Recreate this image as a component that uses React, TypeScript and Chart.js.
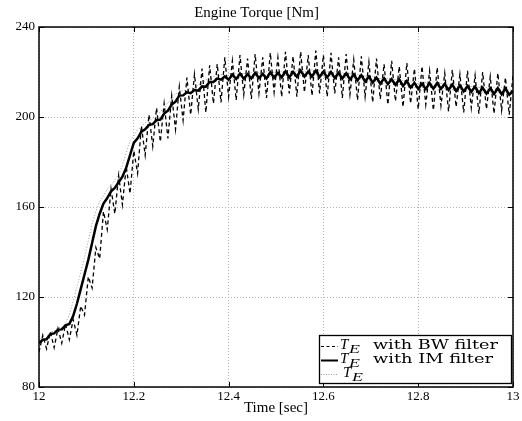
import React, { useEffect, useRef } from "react";
import { Chart, registerables } from "chart.js";

Chart.register(...registerables);

const TITLE = "Engine Torque [Nm]";
const X_TITLE = "Time [sec]";
const X_TICKS = [12, 12.2, 12.4, 12.6, 12.8, 13];
const Y_TICKS = [80, 120, 160, 200, 240];

// sample times [s]
const sampleTimes = [
  12.000, 12.008, 12.016, 12.024, 12.032, 12.040, 12.048, 12.056, 12.064, 12.072,
  12.080, 12.088, 12.096, 12.104, 12.112, 12.120, 12.128, 12.136, 12.144, 12.152,
  12.160, 12.168, 12.176, 12.184, 12.192, 12.200, 12.208, 12.216, 12.224, 12.232,
  12.240, 12.248, 12.256, 12.264, 12.272, 12.280, 12.288, 12.296, 12.304, 12.312,
  12.320, 12.328, 12.336, 12.344, 12.352, 12.360, 12.368, 12.376, 12.384, 12.392,
  12.400, 12.408, 12.416, 12.424, 12.432, 12.440, 12.448, 12.456, 12.464, 12.472,
  12.480, 12.488, 12.496, 12.504, 12.512, 12.520, 12.528, 12.536, 12.544, 12.552,
  12.560, 12.568, 12.576, 12.584, 12.592, 12.600, 12.608, 12.616, 12.624, 12.632,
  12.640, 12.648, 12.656, 12.664, 12.672, 12.680, 12.688, 12.696, 12.704, 12.712,
  12.720, 12.728, 12.736, 12.744, 12.752, 12.760, 12.768, 12.776, 12.784, 12.792,
  12.800, 12.808, 12.816, 12.824, 12.832, 12.840, 12.848, 12.856, 12.864, 12.872,
  12.880, 12.888, 12.896, 12.904, 12.912, 12.920, 12.928, 12.936, 12.944, 12.952,
  12.960, 12.968, 12.976, 12.984, 12.992, 13.000,
];

// T_E with BW filter (dashed)
const torqueBW = [
  95.5, 103.0, 97.0, 104.5, 97.5, 106.0, 99.5, 108.0, 101.0, 110.0,
  103.0, 116.0, 112.0, 129.0, 124.0, 142.0, 137.0, 158.0, 150.0, 168.0,
  157.0, 174.0, 161.0, 178.0, 166.0, 185.0, 175.0, 196.0, 183.0, 201.0,
  187.0, 204.0, 189.0, 206.0, 190.5, 209.5, 194.5, 213.5, 198.5, 217.5,
  201.0, 219.0, 203.5, 221.5, 202.0, 223.0, 206.0, 223.5, 206.5, 226.5,
  209.0, 225.0, 207.5, 227.5, 210.0, 226.0, 208.0, 228.0, 210.5, 226.5,
  208.5, 228.5, 211.0, 226.5, 209.0, 229.0, 210.5, 227.0, 209.0, 229.0,
  211.0, 227.5, 209.5, 229.5, 210.5, 227.5, 209.0, 228.5, 210.5, 226.5,
  208.5, 228.0, 210.0, 225.5, 207.5, 227.0, 209.0, 224.5, 206.5, 226.0,
  208.0, 223.5, 205.5, 225.0, 207.0, 222.5, 204.5, 224.0, 206.0, 221.5,
  203.5, 222.5, 205.5, 220.5, 203.0, 222.0, 205.0, 219.5, 202.5, 221.0,
  204.5, 219.0, 202.0, 220.5, 204.0, 218.5, 201.5, 220.0, 203.5, 218.0,
  201.5, 219.5, 203.0, 217.5, 201.0, 218.5,
];

// T_E with IM filter (solid)
const torqueIM = [
  99.5, 101.0, 101.2, 103.5, 103.8, 105.5, 105.6, 107.4, 108.0, 111.5,
  117.0, 123.5, 130.0, 136.5, 144.0, 151.5, 157.0, 161.5, 164.0, 167.0,
  168.5, 171.0, 173.5, 177.5, 183.0, 188.5, 190.5, 193.5, 194.5, 196.5,
  196.8, 198.6, 198.8, 201.5, 202.8, 205.5, 206.8, 209.5, 209.6, 211.0,
  210.6, 212.0, 211.7, 213.6, 213.5, 215.6, 215.6, 217.1, 216.6, 218.0,
  216.6, 218.8, 216.9, 219.3, 217.0, 219.0, 217.1, 219.6, 217.3, 219.2,
  217.2, 219.9, 217.5, 219.6, 217.6, 220.3, 217.6, 220.1, 217.9, 220.6,
  218.0, 220.2, 218.0, 220.6, 217.8, 220.1, 217.6, 220.0, 217.3, 219.6,
  217.1, 219.4, 216.7, 218.9, 216.3, 218.6, 215.8, 218.0, 215.3, 217.5,
  214.8, 217.2, 214.6, 216.8, 214.3, 216.7, 213.8, 216.0, 213.1, 215.2,
  212.5, 214.8, 212.4, 215.1, 212.6, 215.1, 212.5, 214.7, 212.0, 214.4,
  211.6, 214.0, 211.4, 213.8, 211.2, 213.5, 210.6, 213.0, 210.4, 212.8,
  210.2, 212.8, 210.1, 212.6, 209.9, 211.6,
];

// T_E raw (dotted)
const torqueRaw = [
  100.5, 102.5, 102.0, 104.5, 104.8, 106.5, 106.4, 108.6, 112.0, 118.0,
  124.5, 131.0, 137.5, 145.0, 152.5, 158.0, 162.5, 165.0, 168.0, 169.5,
  172.0, 174.5, 178.5, 184.0, 189.5, 191.5, 194.5, 195.5, 197.5, 197.8,
  199.6, 199.8, 202.5, 203.8, 206.5, 207.8, 210.5, 210.6, 212.0, 211.6,
  213.0, 212.7, 214.6, 214.5, 216.6, 216.6, 218.1, 217.6, 219.0, 218.0,
  219.4, 217.2, 219.6, 217.3, 219.8, 217.4, 219.9, 217.6, 220.0, 217.5,
  220.2, 217.8, 220.4, 217.9, 220.6, 218.0, 220.8, 218.2, 221.0, 218.3,
  220.9, 218.4, 221.1, 218.2, 220.7, 218.0, 220.5, 217.8, 220.2, 217.5,
  219.9, 217.2, 219.5, 216.8, 219.1, 216.3, 218.6, 215.8, 218.0, 215.2,
  217.6, 215.0, 217.4, 214.8, 217.2, 214.3, 216.5, 213.6, 215.8, 212.9,
  215.3, 212.8, 215.6, 213.0, 215.7, 212.9, 215.3, 212.4, 214.9, 212.0,
  214.6, 211.8, 214.4, 211.6, 214.0, 211.0, 213.6, 210.8, 213.3, 210.6,
  213.4, 210.5, 213.2, 210.3, 212.5, 211.0,
];

const toXY = (vals: number[]) => vals.map((y, i) => ({ x: sampleTimes[i], y }));

const framePlugin = {
  id: "frame",
  afterDatasetsDraw(chart: any) {
    const { ctx, chartArea, scales } = chart;
    const { left, right, top, bottom } = chartArea;
    ctx.save();
    ctx.strokeStyle = "#000";
    ctx.lineWidth = 1;
    const tl = 5;
    ctx.beginPath();
    X_TICKS.forEach((v) => {
      const px = Math.round(scales.x.getPixelForValue(v)) + 0.5;
      ctx.moveTo(px, bottom);
      ctx.lineTo(px, bottom - tl);
      ctx.moveTo(px, top);
      ctx.lineTo(px, top + tl);
    });
    Y_TICKS.forEach((v) => {
      const py = Math.round(scales.y.getPixelForValue(v)) + 0.5;
      ctx.moveTo(left, py);
      ctx.lineTo(left + tl, py);
      ctx.moveTo(right, py);
      ctx.lineTo(right - tl, py);
    });
    ctx.stroke();
    ctx.lineWidth = 1.5;
    ctx.strokeRect(left, top, right - left, bottom - top);
    ctx.restore();
  },
};

const serif = "'Liberation Serif', 'Times New Roman', serif";

export default function App() {
  const canvasRef = useRef<HTMLCanvasElement | null>(null);

  useEffect(() => {
    const canvas = canvasRef.current;
    if (!canvas) return;
    const chart = new Chart(canvas, {
      type: "line",
      data: {
        datasets: [
          {
            label: "T_E with IM filter",
            data: toXY(torqueIM),
            borderColor: "#000",
            borderWidth: 2.5,
            pointRadius: 0,
            tension: 0,
            order: 1,
          },
          {
            label: "T_E with BW filter",
            data: toXY(torqueBW),
            borderColor: "#000",
            borderWidth: 1.3,
            borderDash: [4, 3],
            pointRadius: 0,
            tension: 0,
            order: 2,
          },
          {
            label: "T_E",
            data: toXY(torqueRaw),
            borderColor: "#9a9a9a",
            borderWidth: 1,
            borderDash: [1, 2],
            pointRadius: 0,
            tension: 0,
            order: 3,
          },
        ],
      },
      options: {
        animation: false,
        responsive: false,
        devicePixelRatio: 1,
        layout: { padding: { left: 0, right: 9, top: 0, bottom: 0 } },
        plugins: {
          legend: { display: false },
          tooltip: { enabled: false },
          title: {
            display: true,
            text: TITLE,
            color: "#000",
            font: { family: serif, size: 15, weight: "normal" },
            padding: { top: 4, bottom: 5 },
          },
        },
        scales: {
          x: {
            type: "linear",
            min: 12,
            max: 13,
            afterBuildTicks: (scale: any) => {
              scale.ticks = X_TICKS.map((v) => ({ value: v }));
            },
            afterFit: (scale: any) => {
              scale.height = 34;
              scale.paddingLeft = 0;
              scale.paddingRight = 0;
            },
            ticks: {
              color: "#000",
              font: { family: serif, size: 13 },
              padding: 2,
              maxRotation: 0,
              autoSkip: false,
              callback: (v: any) => String(v),
            },
            grid: { color: "#b5b5b5", lineWidth: 1, drawTicks: false },
            border: { display: false, dash: [1, 2] },
            title: {
              display: true,
              text: X_TITLE,
              color: "#000",
              font: { family: serif, size: 15 },
              padding: { top: 0, bottom: 4 },
            },
          },
          y: {
            type: "linear",
            min: 80,
            max: 240,
            afterBuildTicks: (scale: any) => {
              scale.ticks = Y_TICKS.map((v) => ({ value: v }));
            },
            afterFit: (scale: any) => {
              scale.width = 39;
              scale.paddingTop = 0;
              scale.paddingBottom = 0;
            },
            ticks: {
              color: "#000",
              font: { family: serif, size: 13 },
              padding: 4,
              callback: (v: any) => String(v),
            },
            grid: { color: "#b5b5b5", lineWidth: 1, drawTicks: false },
            border: { display: false, dash: [1, 2] },
          },
        },
      },
      plugins: [framePlugin],
    });
    return () => chart.destroy();
  }, []);

  const legendFont = "'DejaVu Serif', serif";
  return (
    <div style={{ position: "absolute", left: 0, top: 0, width: 522, height: 421, background: "#fff" }}>
      <canvas ref={canvasRef} width={522} height={421} style={{ position: "absolute", left: 0, top: 0 }} />
      <svg width={522} height={421} style={{ position: "absolute", left: 0, top: 0, pointerEvents: "none" }}>
        <rect x={319.5} y={335.5} width={192} height={48} fill="#fff" stroke="#000" strokeWidth={1.3} />
        <line x1={321} x2={338} y1={346.5} y2={346.5} stroke="#000" strokeWidth={1} strokeDasharray="3 2.5" />
        <line x1={321} x2={338} y1={360.5} y2={360.5} stroke="#000" strokeWidth={2} />
        <line x1={321} x2={338} y1={374.5} y2={374.5} stroke="#9a9a9a" strokeWidth={1} strokeDasharray="1 1.5" />

        <text x={340} y={349} fontFamily={serif} fontStyle="italic" fontSize={15}>T</text>
        <text x={349} y={353} fontFamily={serif} fontStyle="italic" fontSize={12} textLength={11} lengthAdjust="spacingAndGlyphs">E</text>
        <text x={373} y={349} fontFamily={legendFont} fontSize={13} textLength={125} lengthAdjust="spacingAndGlyphs">with BW filter</text>

        <text x={340} y={363} fontFamily={serif} fontStyle="italic" fontSize={15}>T</text>
        <text x={349} y={367} fontFamily={serif} fontStyle="italic" fontSize={12} textLength={11} lengthAdjust="spacingAndGlyphs">E</text>
        <text x={373} y={363} fontFamily={legendFont} fontSize={13} textLength={120} lengthAdjust="spacingAndGlyphs">with IM filter</text>

        <text x={343} y={377} fontFamily={serif} fontStyle="italic" fontSize={15}>T</text>
        <text x={352} y={381} fontFamily={serif} fontStyle="italic" fontSize={12} textLength={11} lengthAdjust="spacingAndGlyphs">E</text>
      </svg>
    </div>
  );
}
